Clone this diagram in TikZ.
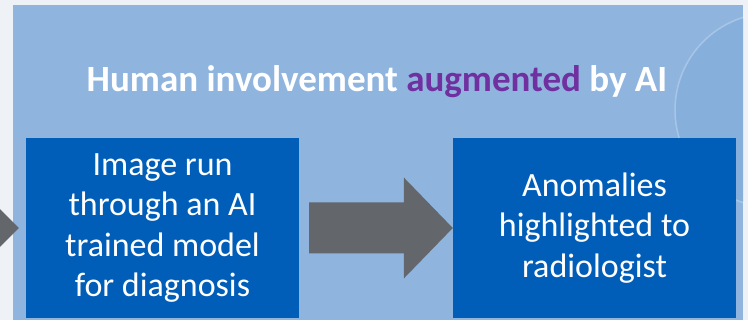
\documentclass[tikz,border=0pt]{standalone}
\usepackage{fontspec}
\setmainfont{Carlito}
\definecolor{outerbg}{HTML}{EEF2F7}
\definecolor{panel}{HTML}{8FB5DF}
\definecolor{panelring}{HTML}{87AFDC}
\definecolor{boxblue}{HTML}{005EB8}
\definecolor{arrowgrey}{HTML}{63666A}
\definecolor{purp}{HTML}{7030A0}
\tikzset{
  stepbox/.style={fill=boxblue, text=white, align=center, inner sep=0pt,
    font=\fontsize{34}{40.5}\selectfont},
  blockarrow/.style={fill=arrowgrey},
}
\begin{document}
\begin{tikzpicture}[x=1pt,y=-1pt]
\useasboundingbox (0,0) rectangle (748,320);
\fill[outerbg] (0,0) rectangle (748,320);
\fill[panel] (13,5) rectangle (743,320);
\begin{scope}
\clip (13,5) rectangle (743,320);
\fill[panelring] (772,110) circle[radius=96];
\draw[white, opacity=0.22, line width=1.5pt] (772,110) circle[radius=97];
\end{scope}
% title
\node[font=\bfseries\fontsize{37}{42}\selectfont, text=white] (title) at (377,82) {Human involvement \textcolor{purp}{augmented} by AI};
% boxes
\node[stepbox, minimum width=273pt, minimum height=180pt] (b1) at (162.5,228) {Image run\\through an AI\\trained model\\for diagnosis};
\node[stepbox, minimum width=283pt, minimum height=180pt] (b2) at (594.5,228) {Anomalies\\highlighted to\\radiologist};
% arrow between boxes
\coordinate (as) at ([xshift=10pt]b1.east);
\coordinate (ae) at (b2.west);
\fill[blockarrow] ([yshift=-25.5pt]as) -- ([xshift=-49pt,yshift=-25.5pt]ae) -- ([xshift=-49pt,yshift=-50.5pt]ae)
  -- (ae) -- ([xshift=-49pt,yshift=50.5pt]ae) -- ([xshift=-49pt,yshift=25.5pt]ae) -- ([yshift=25.5pt]as) -- cycle;
% partial arrow at left edge
\coordinate (lt) at ([xshift=-7pt]b1.west);
\fill[blockarrow] ([xshift=-60pt,yshift=-50.5pt]lt) -- ([xshift=-50pt,yshift=-50.5pt]lt) -- (lt) -- ([xshift=-50pt,yshift=50.5pt]lt) -- ([xshift=-60pt,yshift=50.5pt]lt) -- cycle;
\end{tikzpicture}
\end{document}
